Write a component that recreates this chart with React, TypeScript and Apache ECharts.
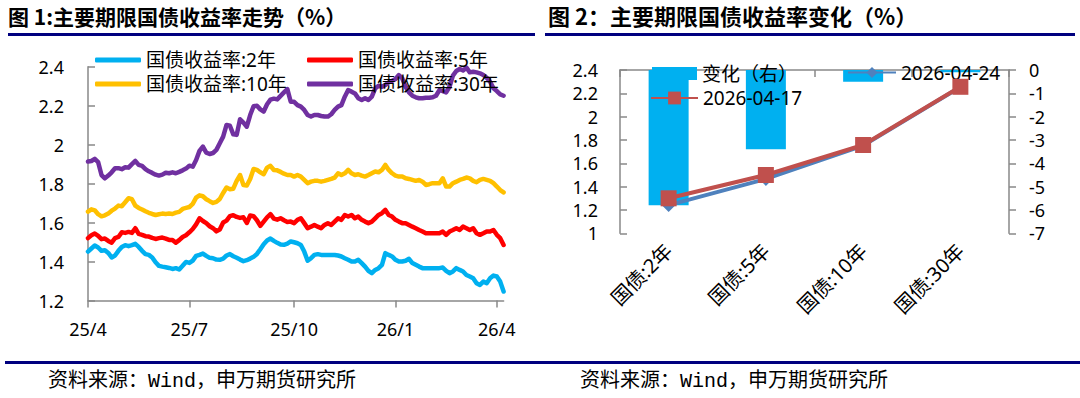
import React, { useEffect, useRef } from 'react';
import * as echarts from 'echarts';

// ---------- Figure 1 data (sampled every 3 days from 2025-04-01) ----------
const sampleStart = Date.UTC(2025, 3, 1);
const sampleStepDays = 3;

const yield2Y = [
  1.451, 1.467, 1.482, 1.472, 1.455, 1.458, 1.444, 1.421, 1.431, 1.455,
  1.475, 1.484, 1.479, 1.484, 1.491, 1.475, 1.455, 1.438, 1.434, 1.421,
  1.396, 1.378, 1.374, 1.371, 1.367, 1.362, 1.366, 1.359, 1.378, 1.398,
  1.393, 1.405, 1.429, 1.434, 1.441, 1.429, 1.419, 1.417, 1.41, 1.409,
  1.415, 1.431, 1.438, 1.427, 1.419, 1.41, 1.402, 1.407, 1.415, 1.424,
  1.439, 1.463, 1.489, 1.508, 1.518, 1.506, 1.496, 1.487, 1.486, 1.492,
  1.503, 1.499, 1.494, 1.485, 1.451, 1.404, 1.417, 1.434, 1.438, 1.434,
  1.434, 1.434, 1.434, 1.434, 1.431, 1.426, 1.417, 1.409, 1.4, 1.4,
  1.409, 1.392, 1.374, 1.352, 1.34, 1.357, 1.366, 1.383, 1.443, 1.434,
  1.426, 1.409, 1.4, 1.4, 1.404, 1.414, 1.392, 1.383, 1.374, 1.366,
  1.366, 1.366, 1.366, 1.366, 1.366, 1.369, 1.352, 1.34, 1.349, 1.366,
  1.357, 1.349, 1.331, 1.323, 1.314, 1.289, 1.28, 1.297, 1.289, 1.314,
  1.328, 1.323, 1.297, 1.246,
];

const yield5Y = [
  1.52, 1.535, 1.544, 1.532, 1.515, 1.518, 1.506, 1.497, 1.52, 1.526,
  1.55, 1.547, 1.552, 1.547, 1.571, 1.542, 1.537, 1.53, 1.528, 1.521,
  1.516, 1.52, 1.523, 1.518, 1.511, 1.511, 1.497, 1.51, 1.526, 1.535,
  1.55, 1.567, 1.591, 1.622, 1.608, 1.597, 1.581, 1.571, 1.555, 1.564,
  1.6, 1.61, 1.633, 1.638, 1.629, 1.624, 1.627, 1.598, 1.636, 1.633,
  1.612, 1.583, 1.605, 1.627, 1.643, 1.62, 1.615, 1.622, 1.612, 1.603,
  1.605, 1.597, 1.614, 1.622, 1.597, 1.571, 1.579, 1.588, 1.579, 1.571,
  1.588, 1.597, 1.588, 1.605, 1.622, 1.614, 1.639, 1.631, 1.639, 1.622,
  1.631, 1.614, 1.605, 1.597, 1.605, 1.622, 1.639, 1.648, 1.665, 1.639,
  1.631, 1.614, 1.605, 1.597, 1.597, 1.588, 1.579, 1.571, 1.562, 1.554,
  1.545, 1.545, 1.545, 1.545, 1.545, 1.554, 1.537, 1.554, 1.562, 1.571,
  1.562, 1.579, 1.571, 1.562, 1.571, 1.545, 1.537, 1.545, 1.554, 1.554,
  1.562, 1.537, 1.52, 1.485,
];

const yield10Y = [
  1.656, 1.668, 1.663, 1.643, 1.632, 1.637, 1.646, 1.661, 1.672, 1.687,
  1.684, 1.704, 1.725, 1.72, 1.687, 1.675, 1.667, 1.658, 1.65, 1.644,
  1.639, 1.643, 1.646, 1.644, 1.646, 1.644, 1.651, 1.655, 1.67, 1.675,
  1.68, 1.696, 1.728, 1.74, 1.735, 1.72, 1.71, 1.701, 1.706, 1.721,
  1.752, 1.78, 1.771, 1.774, 1.814, 1.844, 1.793, 1.79, 1.824, 1.875,
  1.87, 1.858, 1.848, 1.882, 1.891, 1.87, 1.868, 1.86, 1.851, 1.844,
  1.844, 1.836, 1.844, 1.836, 1.819, 1.802, 1.81, 1.814, 1.814, 1.81,
  1.814, 1.819, 1.824, 1.831, 1.853, 1.844, 1.853, 1.87, 1.853, 1.844,
  1.848, 1.841, 1.836, 1.844, 1.853, 1.862, 1.858, 1.87, 1.896, 1.87,
  1.853, 1.841, 1.836, 1.836, 1.827, 1.824, 1.819, 1.814, 1.819, 1.81,
  1.793, 1.797, 1.802, 1.802, 1.802, 1.827, 1.785, 1.785, 1.802, 1.81,
  1.819, 1.824, 1.831, 1.827, 1.814, 1.807, 1.819, 1.824, 1.819, 1.814,
  1.802, 1.785, 1.767, 1.755,
];

const yield30Y = [
  1.913, 1.916, 1.927, 1.91, 1.844, 1.827, 1.841, 1.858, 1.879, 1.879,
  1.874, 1.884, 1.882, 1.9, 1.916, 1.896, 1.891, 1.874, 1.863, 1.855,
  1.846, 1.841, 1.846, 1.856, 1.853, 1.858, 1.853, 1.86, 1.868, 1.877,
  1.892, 1.887, 1.921, 1.968, 1.99, 1.959, 1.952, 1.957, 1.973, 2.007,
  2.041, 2.101, 2.097, 2.053, 2.05, 2.13, 2.113, 2.092, 2.152, 2.197,
  2.2, 2.181, 2.17, 2.207, 2.231, 2.236, 2.232, 2.25, 2.268, 2.285,
  2.22, 2.22, 2.203, 2.195, 2.178, 2.152, 2.144, 2.152, 2.152, 2.147,
  2.144, 2.144, 2.156, 2.178, 2.195, 2.203, 2.246, 2.28, 2.272, 2.263,
  2.238, 2.229, 2.238, 2.229, 2.246, 2.289, 2.302, 2.297, 2.306, 2.32,
  2.327, 2.337, 2.357, 2.34, 2.297, 2.268, 2.251, 2.243, 2.238, 2.238,
  2.241, 2.241, 2.243, 2.251, 2.28, 2.275, 2.268, 2.297, 2.354, 2.378,
  2.388, 2.381, 2.395, 2.371, 2.374, 2.371, 2.366, 2.357, 2.343, 2.323,
  2.289, 2.275, 2.258, 2.251,
];

const leftTickIdx = [0, 30, 61, 91, 121];
const leftTickLabels = ['25/4', '25/7', '25/10', '26/1', '26/4'];

// ---------- Figure 2 data ----------
const tenorCats = ['国债:2年', '国债:5年', '国债:10年', '国债:30年'];
const curve0424 = [1.242, 1.466, 1.752, 2.255];
const curve0417 = [1.3, 1.5, 1.757, 2.256];
const changeBp = [-5.8, -3.4, -0.5, -0.1];

const titleLeft = '图 1:主要期限国债收益率走势（%）';
const titleRight = '图 2：主要期限国债收益率变化（%）';
const sourceText = '资料来源：Wind，申万期货研究所';

const sampleDates = yield2Y.map((_, i) =>
  new Date(sampleStart + i * sampleStepDays * 86400000).toISOString().slice(0, 10)
);

const numFont = '"Noto Sans", "Noto Sans CJK SC", sans-serif';
const cjkFont = '"Noto Sans CJK SC", sans-serif';
const axisGray = '#898989';
const navy = '#00007f';

export default function App() {
  const ref = useRef<HTMLDivElement>(null);

  useEffect(() => {
    if (!ref.current) return;
    const chart = echarts.init(ref.current, null, { renderer: 'svg' });

    const axisLine = { show: true, lineStyle: { color: axisGray, width: 1.5 } };
    const numLabel = { color: '#000', fontSize: 18, fontFamily: numFont };
    const fmtNum = (v: number) => String(Number(v.toFixed(1)));
    const legendText = { color: '#000', fontSize: 19, fontFamily: numFont, lineHeight: 19 };

    const option: any = {
      animation: false,
      grid: [
        { left: 88, top: 66.7, width: 415.6, height: 233.8 },
        { left: 620, top: 70, width: 389, height: 163.3 },
      ],
      xAxis: [
        {
          type: 'category',
          gridIndex: 0,
          data: sampleDates,
          boundaryGap: false,
          axisLine,
          axisTick: {
            show: true,
            interval: (i: number) => leftTickIdx.includes(i),
            length: 7,
            lineStyle: { color: axisGray, width: 1.5 },
          },
          axisLabel: {
            ...numLabel,
            interval: (i: number) => leftTickIdx.includes(i),
            formatter: (_v: string, i: number) => {
              const k = leftTickIdx.indexOf(i);
              return k >= 0 ? leftTickLabels[k] : '';
            },
            margin: 19,
          },
          splitLine: { show: false },
        },
        {
          type: 'category',
          gridIndex: 1,
          data: tenorCats,
          axisLine,
          axisTick: { show: true, length: 7, lineStyle: { color: axisGray, width: 1.5 } },
          axisLabel: { color: '#000', fontSize: 20, fontFamily: numFont, rotate: 45, margin: 14 },
          splitLine: { show: false },
        },
      ],
      yAxis: [
        {
          type: 'value',
          gridIndex: 0,
          min: 1.2,
          max: 2.4,
          interval: 0.2,
          axisLine,
          axisTick: { show: true, inside: true, length: 7, lineStyle: { color: axisGray, width: 1.5 } },
          axisLabel: { ...numLabel, margin: 24, formatter: fmtNum },
          splitLine: { show: false },
        },
        {
          type: 'value',
          gridIndex: 1,
          min: 1,
          max: 2.4,
          interval: 0.2,
          axisLine,
          axisTick: { show: true, inside: true, length: 7, lineStyle: { color: axisGray, width: 1.5 } },
          axisLabel: { ...numLabel, margin: 22, formatter: fmtNum },
          splitLine: { show: false },
        },
        {
          type: 'value',
          gridIndex: 1,
          position: 'right',
          min: -7,
          max: 0,
          interval: 1,
          axisLine,
          axisTick: { show: true, length: 7, lineStyle: { color: axisGray, width: 1.5 } },
          axisLabel: { ...numLabel, margin: 20 },
          splitLine: { show: false },
        },
      ],
      legend: [
        { data: ['国债收益率:2年'], left: 95, top: 50.5 },
        { data: ['国债收益率:5年'], left: 307, top: 50.5 },
        { data: ['国债收益率:10年'], left: 95, top: 74.5 },
        { data: ['国债收益率:30年'], left: 307, top: 74.5 },
      ].map((l) => ({
        ...l,
        padding: 0,
        icon: 'roundRect',
        itemWidth: 46,
        itemHeight: 5,
        textStyle: legendText,
      })).concat([
        {
          data: ['变化（右）'],
          left: 652,
          top: 64,
          padding: 0,
          icon: 'rect',
          itemWidth: 45,
          itemHeight: 13,
          textStyle: legendText,
        } as any,
        {
          data: ['2026-04-24'],
          left: 847,
          top: 63,
          padding: 0,
          itemWidth: 48,
          itemHeight: 14,
          textStyle: legendText,
        },
        {
          data: ['2026-04-17'],
          left: 650,
          top: 88.5,
          padding: 0,
          itemWidth: 47,
          itemHeight: 16,
          textStyle: legendText,
        },
      ]),
      series: [
        { name: '国债收益率:2年', color: '#00b0f0', data: yield2Y },
        { name: '国债收益率:5年', color: '#ff0000', data: yield5Y },
        { name: '国债收益率:10年', color: '#ffc000', data: yield10Y },
        { name: '国债收益率:30年', color: '#7030a0', data: yield30Y },
      ].map((s) => ({
        type: 'line',
        name: s.name,
        xAxisIndex: 0,
        yAxisIndex: 0,
        data: s.data,
        showSymbol: false,
        symbol: 'none',
        itemStyle: { color: s.color },
        lineStyle: { color: s.color, width: 4.5, join: 'round', cap: 'round' },
      })).concat([
        {
          type: 'bar',
          name: '变化（右）',
          xAxisIndex: 1,
          yAxisIndex: 2,
          data: changeBp,
          barWidth: 40,
          itemStyle: { color: '#00b0f0' },
          z: 1,
        } as any,
        {
          type: 'line',
          name: '2026-04-24',
          xAxisIndex: 1,
          yAxisIndex: 1,
          data: curve0424,
          symbol: 'diamond',
          symbolSize: 14,
          itemStyle: { color: '#4f81bd' },
          lineStyle: { color: '#4f81bd', width: 4 },
          z: 3,
        },
        {
          type: 'line',
          name: '2026-04-17',
          xAxisIndex: 1,
          yAxisIndex: 1,
          data: curve0417,
          symbol: 'rect',
          symbolSize: 16,
          itemStyle: { color: '#c0504d' },
          lineStyle: { color: '#c0504d', width: 4 },
          z: 4,
        },
      ]),
      graphic: [
        {
          type: 'text',
          left: 8,
          top: 5,
          style: { text: titleLeft, font: `bold 21px ${cjkFont}`, fill: '#000' },
        },
        {
          type: 'text',
          left: 548,
          top: 4,
          style: { text: titleRight, font: `bold 22px ${cjkFont}`, fill: '#000' },
        },
        { type: 'rect', shape: { x: 8, y: 33, width: 527, height: 3 }, style: { fill: navy } },
        { type: 'rect', shape: { x: 545, y: 33, width: 530, height: 3 }, style: { fill: navy } },
        { type: 'rect', shape: { x: 5, y: 361, width: 1075, height: 3 }, style: { fill: navy } },
        {
          type: 'text',
          left: 48,
          top: 371,
          style: { text: sourceText, font: `20px "Liberation Mono", ${cjkFont}`, fill: '#000' },
        },
        {
          type: 'text',
          left: 580,
          top: 371,
          style: { text: sourceText, font: `20px "Liberation Mono", ${cjkFont}`, fill: '#000' },
        },
      ],
    };

    chart.setOption(option);
    return () => chart.dispose();
  }, []);

  return (
    <div
      ref={ref}
      style={{ position: 'absolute', left: 0, top: 0, width: 1080, height: 398, background: '#fff' }}
    />
  );
}
